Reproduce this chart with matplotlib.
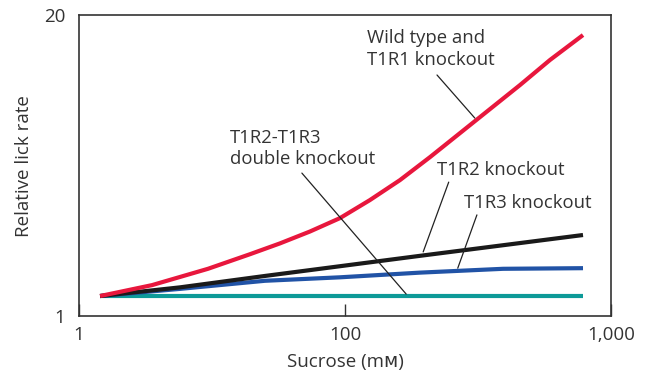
"""Relative lick rate versus sucrose concentration for taste-receptor knockouts."""

import matplotlib

matplotlib.use("Agg")
import matplotlib.pyplot as plt
import numpy as np
from matplotlib.scale import FuncScale

# Sucrose concentration (mM) at the sampled points of each curve
wild_x = [1.44, 3.54, 9.33, 19.3, 32.4, 54.6, 91.7, 124, 161, 209, 308, 455, 590, 785]
wild_y = [1.22, 1.36, 1.60, 1.85, 2.06, 2.32, 2.65, 3.17, 3.87, 4.87, 6.96, 9.97, 12.8, 16.4]

t1r2_x = [1.44, 5.74, 25.0, 191, 785]
t1r2_y = [1.22, 1.33, 1.49, 1.82, 2.24]

t1r3_x = [1.44, 5.74, 25.0, 91.7, 191, 393, 785]
t1r3_y = [1.22, 1.31, 1.42, 1.47, 1.54, 1.60, 1.61]

double_x = [1.44, 785]
double_y = [1.22, 1.22]

x_ticks = [1, 100, 1000]
x_tick_labels = ["1", "100", "1,000"]
y_ticks = [1, 20]
y_tick_labels = ["1", "20"]

TEXT_COLOR = "#333333"
FONT = ["Open Sans", "DejaVu Sans"]


def _forward(x):
    """The figure squeezes 1-100 and 100-1000 into equal widths."""
    lx = np.log10(np.clip(x, 1e-9, None))
    return np.where(lx <= 2, lx / 2.0, 1.0 + (lx - 2.0))


def _inverse(u):
    return np.where(u <= 1, 10 ** (2.0 * u), 10 ** (u + 1.0))


plt.rcParams["font.family"] = FONT

fig = plt.figure(figsize=(6.49, 3.78), dpi=100)
ax = fig.add_axes([0.1217, 0.164, 0.8197, 0.796])

line_kw = dict(lw=3.0, solid_capstyle="butt", solid_joinstyle="round")
ax.plot(double_x, double_y, color="#0d9a98", **line_kw)
ax.plot(t1r3_x, t1r3_y, color="#2153a6", **line_kw)
ax.plot(t1r2_x, t1r2_y, color="#1a1a1a", **line_kw)
ax.plot(wild_x, wild_y, color="#e8173d", **line_kw)

ax.set_xscale(FuncScale(ax.xaxis, (_forward, _inverse)))
ax.set_yscale("log")
ax.set_xlim(1, 1000)
ax.set_ylim(1, 20)

ax.set_xticks(x_ticks)
ax.set_xticklabels(x_tick_labels)
ax.set_yticks(y_ticks)
ax.set_yticklabels(y_tick_labels)
ax.xaxis.set_minor_locator(matplotlib.ticker.NullLocator())
ax.yaxis.set_minor_locator(matplotlib.ticker.NullLocator())
ax.tick_params(axis="x", direction="in", length=9, width=1.0, color=TEXT_COLOR,
               labelsize=13.5, labelcolor=TEXT_COLOR, pad=7)
ax.tick_params(axis="y", length=0, labelsize=13.5, labelcolor=TEXT_COLOR, pad=10)

for spine in ax.spines.values():
    spine.set_color(TEXT_COLOR)
    spine.set_linewidth(1.2)

ax.set_xlabel("Sucrose (mᴍ)", fontsize=13.5, color=TEXT_COLOR, labelpad=7)
ax.set_ylabel("Relative lick rate", fontsize=13.5, color=TEXT_COLOR, labelpad=8)

labels = [
    ("Wild type and\nT1R1 knockout", (0.541, 0.887), (0.673, 0.801), (0.744, 0.658)),
    ("T1R2-T1R3\ndouble knockout", (0.284, 0.556), (0.419, 0.475), (0.615, 0.073)),
    ("T1R2 knockout", (0.673, 0.485), (0.695, 0.445), (0.647, 0.213)),
    ("T1R3 knockout", (0.724, 0.375), (0.748, 0.336), (0.712, 0.159)),
]
for text, text_pos, start, end in labels:
    ax.text(*text_pos, text, transform=ax.transAxes, ha="left", va="center",
            fontsize=13.3, color=TEXT_COLOR, linespacing=1.25)
    ax.annotate("", xy=end, xytext=start, xycoords="axes fraction",
                textcoords="axes fraction",
                arrowprops=dict(arrowstyle="-", color="#222222", lw=0.9,
                                shrinkA=0, shrinkB=0))

fig.savefig("out.png", dpi=100)
